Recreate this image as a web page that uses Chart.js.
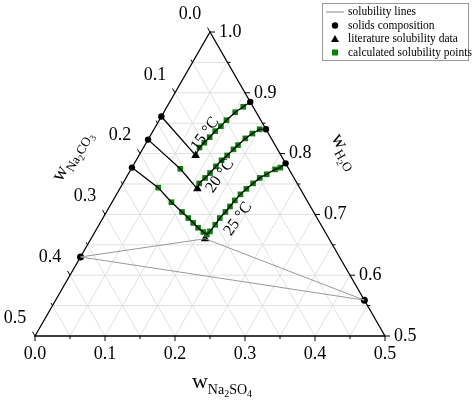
<!DOCTYPE html>
<html><head><meta charset="utf-8">
<script src="https://cdn.jsdelivr.net/npm/chart.js@4.4.1/dist/chart.umd.min.js"></script>
<style>body{margin:0;background:#fff}</style></head>
<body><canvas id="c" width="474" height="413"></canvas>
<script>
// Compositions as [w(Na2SO4), w(H2O)]; w(Na2CO3) = 1 - both
const solids = [[0.000,0.630],[0.441,0.559]];
const invariant25 = [0.163,0.660];
const edge15 = [[0.000,0.861],[0.115,0.885]];
const edge20 = [[0.000,0.823],[0.160,0.840]];
const edge25 = [[0.000,0.777],[0.216,0.784]];
const lit15 = [[0.081,0.797]];
const lit20 = [[0.111,0.742]];
const lit25 = [invariant25];
const calc15 = [[0.080,0.810],[0.083,0.818],[0.086,0.827],[0.089,0.837],[0.093,0.845],[0.096,0.855],[0.102,0.868],[0.109,0.877]];
const calc20L = [[0.070,0.775]];
const calc20 = [[0.109,0.751],[0.113,0.760],[0.116,0.768],[0.119,0.779],[0.122,0.789],[0.126,0.797],[0.130,0.807],[0.133,0.814],[0.138,0.825],[0.144,0.833],[0.151,0.840]];
const calc25L = [[0.054,0.744],[0.085,0.720],[0.108,0.704],[0.122,0.694],[0.133,0.686],[0.144,0.678],[0.155,0.671],[0.162,0.667]];
const calc25R = [[0.164,0.672],[0.166,0.683],[0.167,0.694],[0.170,0.704],[0.172,0.713],[0.174,0.723],[0.177,0.733],[0.181,0.742],[0.186,0.751],[0.191,0.760],[0.198,0.766],[0.206,0.774],[0.212,0.777]];
const ticks = [0,0.1,0.2,0.3,0.4,0.5];

const H = 0.4330127;
const P = ([a,w]) => ({x: a + 0.25*(2*w-1), y: H*(2*w-1)});
const pts = arr => arr.map(P);

const line15 = [edge15[0], ...lit15, ...calc15, edge15[1]];
const line20 = [edge20[0], ...calc20L, ...lit20, ...calc20, edge20[1]];
const line25 = [edge25[0], ...calc25L, ...calc25R, edge25[1]];

const lineDS = (d,c,wd)=>({data:pts(d),showLine:true,pointRadius:0,borderColor:c,borderWidth:wd,fill:false});
const datasets = [
  lineDS([solids[0],invariant25],'#999',1),
  lineDS([solids[0],solids[1]],'#999',1),
  lineDS([invariant25,solids[1]],'#999',1),
  lineDS(line15,'#000',1.3),
  lineDS(line20,'#000',1.3),
  lineDS(line25,'#000',1.3),
  {data:pts([...calc15,...calc20L,...calc20,...calc25L,...calc25R]),pointStyle:'rect',pointRadius:4,backgroundColor:'#0a800a',borderColor:'#0a800a',borderWidth:0},
  {data:pts([...edge15,...edge20,...edge25]),pointStyle:'circle',pointRadius:3.2,backgroundColor:'#000',borderWidth:0},
  {data:pts([...lit15,...lit20,...lit25]),pointStyle:'triangle',pointRadius:5,backgroundColor:'#000',borderColor:'#000',borderWidth:0},
  {data:pts(solids),pointStyle:'circle',pointRadius:3.5,backgroundColor:'#000',borderWidth:0}
];

const F = '"Liberation Serif", "Times New Roman", serif';
function drawTitle(ctx,parts,x0,y0,ang){
  ctx.save();ctx.translate(x0,y0);ctx.rotate(ang);ctx.textBaseline='alphabetic';ctx.textAlign='left';
  let tot=0; parts.forEach(p=>{ctx.font=p[1]+'px '+F;tot+=ctx.measureText(p[0]).width;});
  let cx=-tot/2;
  parts.forEach(p=>{ctx.font=p[1]+'px '+F;ctx.fillText(p[0],cx,p[2]+4);cx+=ctx.measureText(p[0]).width;});
  ctx.restore();
}
const tern = {
  id:'tern',
  beforeDatasetsDraw(ch){
    const {ctx,scales:{x,y}} = ch;
    const px = p => [x.getPixelForValue(p.x), y.getPixelForValue(p.y)];
    const Q = (a,w)=>px(P([a,w]));
    ctx.save();
    ctx.strokeStyle='#e0e0e0'; ctx.lineWidth=1;
    for(let i=1;i<10;i++){
      const v=i*0.05;
      let A=Q(v,0.5),B=Q(v,1-v); ctx.beginPath();ctx.moveTo(...A);ctx.lineTo(...B);ctx.stroke();
      A=Q(0,0.5+v);B=Q(0.5-v,0.5+v); ctx.beginPath();ctx.moveTo(...A);ctx.lineTo(...B);ctx.stroke();
      A=Q(0,1-v);B=Q(0.5-v,0.5); ctx.beginPath();ctx.moveTo(...A);ctx.lineTo(...B);ctx.stroke();
    }
    ctx.strokeStyle='#000'; ctx.lineWidth=1.3;
    const L=Q(0,0.5),R=Q(0.5,0.5),T=Q(0,1);
    ctx.beginPath();ctx.moveTo(...L);ctx.lineTo(...R);ctx.lineTo(...T);ctx.closePath();ctx.stroke();
    ctx.lineWidth=1;
    for(let i=0;i<=10;i++){
      const v=i*0.05, len=i%2?3:5;
      let p=Q(v,0.5); ctx.beginPath();ctx.moveTo(...p);ctx.lineTo(p[0],p[1]+len);ctx.stroke();
      p=Q(0.5-v,0.5+v); ctx.beginPath();ctx.moveTo(...p);ctx.lineTo(p[0]+len,p[1]);ctx.stroke();
      p=Q(0,1-v); ctx.beginPath();ctx.moveTo(...p);ctx.lineTo(p[0]-len*0.5,p[1]-len*0.866);ctx.stroke();
    }
    ctx.fillStyle='#000'; ctx.font='18px '+F;
    ctx.textBaseline='middle';
    ticks.forEach(v=>{
      let p=Q(v,0.5); ctx.textAlign='center'; ctx.fillText(v.toFixed(1),p[0],p[1]+18);
      p=Q(0.5-v,0.5+v); ctx.textAlign='left'; ctx.fillText((0.5+v).toFixed(1),p[0]+9,p[1]);
      p=Q(0,1-v); ctx.textAlign='center'; ctx.fillText(v.toFixed(1),p[0]-20,p[1]-18);
    });
    ctx.restore();
  },
  afterDraw(ch){
    const {ctx} = ch;
    ctx.save(); ctx.fillStyle='#000';
    drawTitle(ctx,[['w',22,0],['Na',14,6],['2',10,9],['SO',14,6],['4',10,9]],222,384,0);
    drawTitle(ctx,[['w',20,0],['Na',13,5],['2',9,8],['CO',13,5],['3',9,8]],72,156,-Math.PI/3);
    drawTitle(ctx,[['w',20,0],['H',13,5],['2',9,8],['O',13,5]],344,152,Math.PI/3);
    ctx.font='16px '+F; ctx.textAlign='center'; ctx.textBaseline='middle';
    [['15 °C',205,134],['20 °C',220,176],['25 °C',238,219]].forEach(([t,x0,y0])=>{
      ctx.save();ctx.translate(x0,y0);ctx.rotate(-0.95);ctx.fillText(t,0,0);ctx.restore();
    });
    ctx.strokeStyle='#999';ctx.lineWidth=1;ctx.strokeRect(322.5,3.5,146,57);
    ctx.font='11.5px '+F;ctx.textAlign='left';
    const rows=['solubility lines','solids composition','literature solubility data','calculated solubility points'];
    rows.forEach((t,i)=>{
      const yy=12+i*13.5;
      ctx.fillStyle='#000';ctx.fillText(t,348,yy);
      if(i==0){ctx.strokeStyle='#888';ctx.beginPath();ctx.moveTo(326,yy);ctx.lineTo(344,yy);ctx.stroke();}
      if(i==1){ctx.beginPath();ctx.arc(335,yy,3.2,0,7);ctx.fill();}
      if(i==2){ctx.beginPath();ctx.moveTo(335,yy-4);ctx.lineTo(339,yy+3);ctx.lineTo(331,yy+3);ctx.closePath();ctx.fill();}
      if(i==3){ctx.fillStyle='#0a800a';ctx.fillRect(332,yy-3,6,6);}
    });
    ctx.restore();
  }
};
new Chart(document.getElementById('c'),{
  type:'scatter',
  data:{datasets},
  options:{
    responsive:false,animation:false,devicePixelRatio:1,
    layout:{padding:{left:35,right:89,top:32,bottom:77}},
    plugins:{legend:{display:false},tooltip:{enabled:false}},
    scales:{
      x:{type:'linear',min:0,max:0.5,display:false},
      y:{type:'linear',min:0,max:H,display:false}
    }
  },
  plugins:[tern]
});
</script></body></html>
